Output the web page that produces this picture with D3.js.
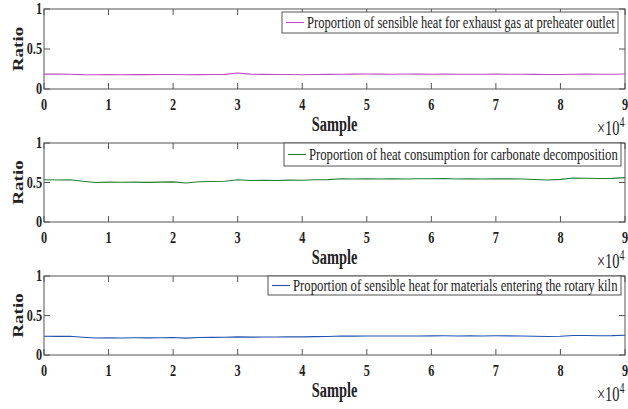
<!DOCTYPE html>
<html>
<head>
<meta charset="utf-8">
<script src="https://cdn.jsdelivr.net/npm/d3@7"></script>
<style>
  body { margin: 0; background: #fff; }
  text { font-family: "Liberation Serif", "Times New Roman", serif; }
</style>
</head>
<body>
<div id="chart"></div>
<script>
// sample index (every 2000 samples)
let samples = [0, 2000, 4000, 6000, 8000, 10000, 12000, 14000, 16000, 18000,
    20000, 22000, 24000, 26000, 28000, 30000, 32000, 34000, 36000, 38000,
    40000, 42000, 44000, 46000, 48000, 50000, 52000, 54000, 56000, 58000,
    60000, 62000, 64000, 66000, 68000, 70000, 72000, 74000, 76000, 78000,
    80000, 82000, 84000, 86000, 88000, 90000];

let exhaustGas = [0.186, 0.186, 0.185, 0.180, 0.179, 0.180, 0.179, 0.180, 0.180, 0.181,
    0.181, 0.178, 0.180, 0.182, 0.183, 0.200, 0.186, 0.183, 0.182, 0.181,
    0.179, 0.182, 0.183, 0.185, 0.186, 0.187, 0.186, 0.185, 0.187, 0.186,
    0.185, 0.186, 0.185, 0.184, 0.185, 0.186, 0.185, 0.184, 0.183, 0.181,
    0.182, 0.185, 0.186, 0.184, 0.185, 0.187];

let carbonate = [0.535, 0.532, 0.535, 0.515, 0.500, 0.505, 0.503, 0.505, 0.502, 0.505,
    0.508, 0.493, 0.510, 0.512, 0.515, 0.535, 0.525, 0.527, 0.525, 0.530,
    0.528, 0.535, 0.537, 0.548, 0.545, 0.548, 0.545, 0.548, 0.545, 0.547,
    0.548, 0.550, 0.545, 0.547, 0.545, 0.548, 0.546, 0.545, 0.538, 0.532,
    0.540, 0.556, 0.554, 0.550, 0.552, 0.562];

let materials = [0.237, 0.236, 0.238, 0.225, 0.215, 0.218, 0.216, 0.218, 0.217, 0.219,
    0.221, 0.214, 0.222, 0.223, 0.224, 0.230, 0.226, 0.228, 0.227, 0.230,
    0.229, 0.232, 0.234, 0.240, 0.239, 0.241, 0.240, 0.241, 0.240, 0.241,
    0.242, 0.243, 0.241, 0.242, 0.241, 0.243, 0.242, 0.241, 0.237, 0.234,
    0.238, 0.247, 0.246, 0.244, 0.245, 0.250];

let legendNames = ["Proportion of sensible heat for exhaust gas at preheater outlet",
    "Proportion of heat consumption for carbonate decomposition",
    "Proportion of sensible heat for materials entering the rotary kiln"];
let xTicks = [0, 1, 2, 3, 4, 5, 6, 7, 8, 9];   // x 10^4
let yTicks = [0, 0.5, 1];

let width = 628, height = 409;
let left = 44, right = 625;
let squeeze = 0.72;   // the picture is narrowed horizontally
let panels = [
    { top: 9, bottom: 89, values: exhaustGas, color: "#c04ac0", lx: 282, ly: 12, lw: 340, lh: 21 },
    { top: 143, bottom: 222, values: carbonate, color: "#1f7f33", lx: 284, ly: 143, lw: 341, lh: 23 },
    { top: 276, bottom: 355, values: materials, color: "#2452b0", lx: 268, ly: 276, lw: 357, lh: 19 }
];
let axisColor = "#555";

let svg = d3.select("#chart").append("svg")
    .attr("width", width)
    .attr("height", height);

let x = d3.scaleLinear().domain([0, 90000]).range([left, right]);

function squeezed(g, px, py, anchor, size, bold, txt) {
    return g.append("text")
        .attr("transform", "translate(" + px + "," + py + ") scale(" + squeeze + ",1)")
        .attr("text-anchor", anchor)
        .attr("font-size", size)
        .attr("font-weight", bold ? "bold" : "normal")
        .attr("fill", "#222")
        .text(txt);
}

panels.forEach(function (p, k) {
    let y = d3.scaleLinear().domain([0, 1]).range([p.bottom, p.top]);
    let g = svg.append("g");

    // box
    g.append("rect")
        .attr("x", left).attr("y", p.top)
        .attr("width", right - left).attr("height", p.bottom - p.top)
        .attr("fill", "none").attr("stroke", axisColor).attr("stroke-width", 1);

    // inward ticks on all sides
    xTicks.forEach(function (t) {
        let px = x(t * 10000);
        g.append("line").attr("x1", px).attr("x2", px).attr("y1", p.bottom).attr("y2", p.bottom - 6)
            .attr("stroke", axisColor);
        g.append("line").attr("x1", px).attr("x2", px).attr("y1", p.top).attr("y2", p.top + 6)
            .attr("stroke", axisColor);
        squeezed(g, px, p.bottom + 21, "middle", 17, true, t);
    });
    yTicks.forEach(function (t) {
        let py = y(t);
        g.append("line").attr("x1", left).attr("x2", left + 6).attr("y1", py).attr("y2", py)
            .attr("stroke", axisColor);
        g.append("line").attr("x1", right).attr("x2", right - 6).attr("y1", py).attr("y2", py)
            .attr("stroke", axisColor);
        squeezed(g, left - 2, py + 5, "end", 17, true, t);
    });

    // the series
    let line = d3.line()
        .x(function (d, i) { return x(samples[i]); })
        .y(function (d) { return y(d); });
    g.append("path")
        .datum(p.values)
        .attr("d", line)
        .attr("fill", "none")
        .attr("stroke", p.color)
        .attr("stroke-width", 1.1);

    // axis labels
    g.append("text")
        .attr("transform", "translate(23," + ((p.top + p.bottom) / 2) + ") rotate(-90) scale(1," + squeeze + ")")
        .attr("text-anchor", "middle")
        .attr("font-size", 19).attr("font-weight", "bold")
        .attr("fill", "#222")
        .text("Ratio");
    squeezed(g, (left + right) / 2, p.bottom + 42, "middle", 20, true, "Sample");

    let mult = squeezed(g, 597, p.bottom + 46, "start", 20, false, "");
    mult.append("tspan").text("\u00d710");
    mult.append("tspan").attr("dy", -8).attr("font-size", 14).text("4");

    // legend
    let lg = g.append("g");
    lg.append("rect")
        .attr("x", p.lx).attr("y", p.ly)
        .attr("width", p.lw - 4).attr("height", p.lh)
        .attr("fill", "#fff").attr("stroke", axisColor);
    let cy = p.ly + p.lh / 2;
    lg.append("line")
        .attr("x1", p.lx + 4).attr("x2", p.lx + 22)
        .attr("y1", cy).attr("y2", cy)
        .attr("stroke", p.color).attr("stroke-width", 1.1);
    let lt = lg.append("text")
        .attr("font-size", 16)
        .attr("fill", "#222")
        .text(legendNames[k]);
    let natural = lt.node().getComputedTextLength();
    let k2 = (p.lw - 4 - 25 - 3) / natural;
    lt.attr("transform", "translate(" + (p.lx + 25) + "," + (cy + 5) + ") scale(" + k2 + ",1)");
});
</script>
</body>
</html>
